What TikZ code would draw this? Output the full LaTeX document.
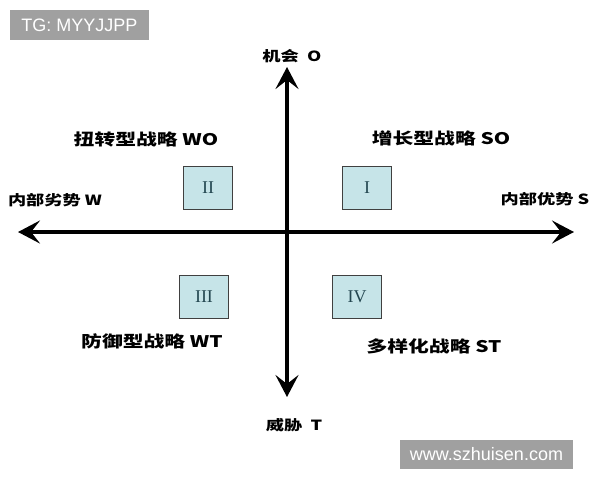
\documentclass[tikz,border=0pt]{standalone}
\usepackage{fontspec}
\setmainfont{Liberation Serif}
\newfontfamily\cjk{Noto Sans CJK SC}[FakeStretch=1.3]
\newfontfamily\wmfont{Liberation Sans}
\usetikzlibrary{arrows.meta}
\definecolor{boxblue}{RGB}{198,228,232}
\definecolor{numteal}{RGB}{35,70,80}
\definecolor{wmgray}{RGB}{160,160,160}

\begin{document}
\begin{tikzpicture}[x=1pt,y=-1pt]
		\tikzset{axis/.style={line width=3.4pt, {Stealth[length=22pt,width=23pt,inset=9pt]}-{Stealth[length=22pt,width=23pt,inset=9pt]}}}
		\tikzset{quad/.style={font=\cjk\bfseries\fontsize{16}{16}\selectfont, inner sep=0pt}}
		\tikzset{axislabel/.style={font=\cjk\bfseries\fontsize{14}{14}\selectfont, inner sep=0pt}}
		\tikzset{numbox/.style={draw=black!75, line width=1.4pt, fill=boxblue, minimum width=49pt, minimum height=43pt, inner sep=0pt, text=numteal, font=\rmfamily\fontsize{18}{18}\selectfont}}
		\tikzset{watermark/.style={fill=wmgray, text=white, inner sep=0pt, font=\wmfont\fontsize{18}{18}\selectfont}}
		\useasboundingbox (0,0) rectangle (600,480);
		% axes
		\coordinate (left) at (18,232);
		\coordinate (right) at (574,232);
		\coordinate (top) at (287,67);
		\coordinate (bottom) at (287,397);
		\draw[axis] (left) -- (right);
		\draw[axis] (bottom) -- (top);
		% axis labels
		\node[axislabel] (O) at (292,56) {机会\ \ O};
		\node[axislabel] (T) at (294,425) {威胁\ \ T};
		\node[axislabel] (W) at (55,200) {内部劣势 W};
		\node[axislabel] (S) at (545,199) {内部优势 S};
		% quadrants
		\node[quad] (WO) at (146,139) {扭转型战略 WO};
		\node[quad] (SO) at (441,138) {增长型战略 SO};
		\node[quad] (WT) at (152,341) {防御型战略 WT};
		\node[quad] (ST) at (434,346) {多样化战略 ST};
		\node[numbox] (II) at (208,188) {II};
		\node[numbox] (I) at (367,188) {I};
		\node[numbox] (III) at (204,297) {III};
		\node[numbox] (IV) at (357,297) {IV};
		% watermarks
		\node[watermark, minimum width=139pt, minimum height=30pt] (wmtop) at (79.5,25) {TG: MYYJJPP};
		\node[watermark, minimum width=173pt, minimum height=29pt] (wmbottom) at (486.5,454.5) {www.szhuisen.com};
\end{tikzpicture}
\end{document}
